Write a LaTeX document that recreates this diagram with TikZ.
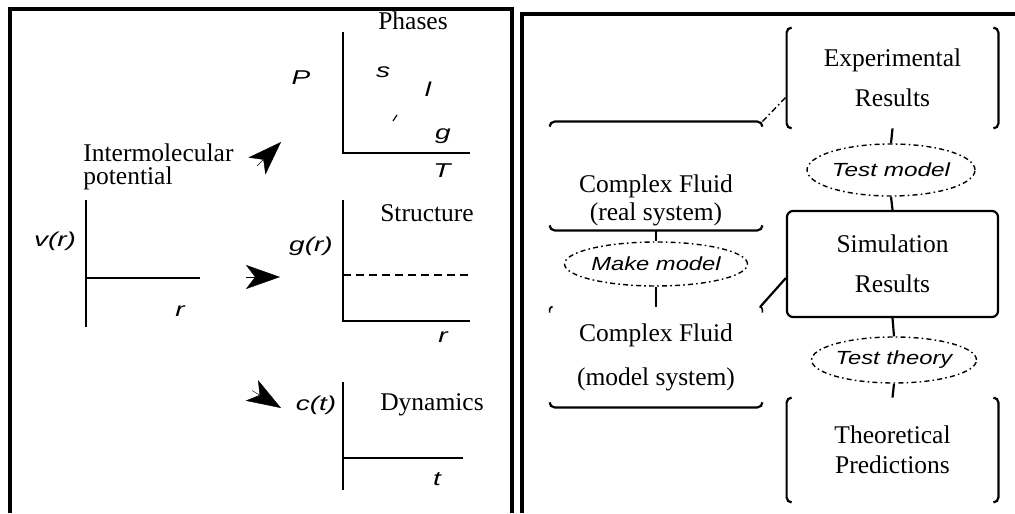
\documentclass[tikz,border=0pt]{standalone}
\usepackage{fontspec}
\usepackage{graphicx}
\setmainfont{Liberation Serif}
\newfontfamily\lsans{Liberation Sans}
\usetikzlibrary{arrows.meta,shapes.geometric}
\newcommand{\xst}[2]{\scalebox{#1}[1]{#2}}
\begin{document}
\begin{tikzpicture}[x=0.5pt,y=-0.5pt,
  frame/.style={line width=2pt, line join=miter},
  axis/.style={line width=1.4pt},
  serif/.style={font=\fontsize{12.75}{19}\selectfont, inner sep=0pt},
  lab/.style={font=\lsans\itshape\fontsize{10}{12}\selectfont, inner sep=0pt},
  dart/.style={line width=0.2pt, -{Stealth[length=17pt, width=12pt, inset=4.5pt]}},
  box/.style={serif, align=center, minimum width=105.5pt, minimum height=50pt},
  boxline/.style={line width=1.1pt},
  ell/.style={ellipse, draw, line width=0.7pt, dash pattern=on 2.5pt off 1.6pt on 0.8pt off 1.6pt,
              inner sep=0pt, font=\lsans\itshape\fontsize{9.5}{11}\selectfont},
  conn/.style={line width=1.1pt},
  thinlink/.style={line width=0.7pt, dash pattern=on 3pt off 1.5pt on 0.8pt off 1.5pt}
]
\useasboundingbox (0,0) rectangle (1015,513);

% ---------- frames ----------
\draw[frame] (10,513) -- (10,9) -- (512,9) -- (512,513);
\draw[frame] (1016,14) -- (522,14) -- (522,513);

% ---------- left panel ----------
% Phases diagram
\draw[axis] (343,32) -- (343,153) -- (470,153);
\node[serif] (phases) at (413,21) {Phases};
\node[lab] (Plab) at (301,78) {\xst{1.4}{P}};
\node[lab] (slab) at (383,72) {\xst{1.4}{s}};
\node[lab] (llab) at (428,89) {\xst{1.4}{l}};
\node[lab] (glab) at (443,136) {\xst{1.4}{g}};
\node[lab] (Tlab) at (442,171) {\xst{1.4}{T}};
\draw[line width=0.6pt] (393,121) -- (397,115);

% intermolecular potential
\node[serif, anchor=north west, align=left, font=\fontsize{12.75}{11.5}\selectfont] (inter) at (83,143) {Intermolecular\\potential};
\node[lab] (vlab) at (55,241) {\xst{1.4}{v(r)}};
\draw[axis] (86,200) -- (86,327);
\draw[axis] (86,278) -- (200,278);
\node[lab] (rlab1) at (180,311) {\xst{1.4}{r}};

% arrowheads
\coordinate (a1s) at (257,166); \coordinate (a1e) at (281,142);
\coordinate (a2s) at (246,277); \coordinate (a2e) at (280,277);
\coordinate (a3s) at (252,390.5); \coordinate (a3e) at (281,408);
\draw[dart] (a1s) -- (a1e);
\draw[dart] (a2s) -- (a2e);
\draw[dart] (a3s) -- (a3e);

% Structure
\node[lab] (grlab) at (311,246) {\xst{1.4}{g(r)}};
\node[serif] (struct) at (427,213) {Structure};
\draw[axis] (343,200) -- (343,321) -- (470,321);
\draw[line width=1.1pt, dash pattern=on 4pt off 2.5pt] (343,275) -- (470,275);
\node[lab] (rlab2) at (443,337) {\xst{1.4}{r}};

% Dynamics
\node[lab] (ctlab) at (316,405) {\xst{1.4}{c(t)}};
\node[serif] (dyn) at (432,405) {Dynamics};
\draw[axis] (343,382) -- (343,490);
\draw[axis] (343,458) -- (463,458);
\node[lab] (tlab) at (437,479) {\xst{1.4}{t}};

% ---------- right panel ----------
\node[box] (exp) at (892.5,78) {Experimental\\[1pt]Results};
\node[box, draw, boxline, rounded corners=3pt, minimum height=53pt] (sim) at (892.5,264) {Simulation\\[1pt]Results};
\node[box, minimum height=52pt] (theo) at (892.5,450) {Theoretical\\[-4pt]Predictions};
\node[box, minimum width=106pt, minimum height=54pt] (real) at (656,176)
  {\raisebox{-14.5pt}[0pt][0pt]{\begin{tabular}{@{}c@{}}Complex Fluid\\[-5pt](real system)\end{tabular}}};
\node[box, minimum width=106pt, minimum height=50pt] (model) at (656,357) {Complex Fluid\\[3pt](model system)};

\node[ell, minimum width=84pt, minimum height=26pt] (tm) at (891,170) {\xst{1.28}{Test model}};
\node[ell, minimum width=81pt, minimum height=22pt] (mm) at (656,264) {\xst{1.25}{Make model}};
\node[ell, minimum width=79pt, minimum height=23pt] (tt) at (894,360) {\xst{1.25}{Test theory}};

% bracket sides of Experimental / Theoretical
\draw[boxline, rounded corners=2.5pt] ([xshift=2.5pt]exp.north west) -- (exp.north west) -- (exp.south west) -- ([xshift=2.5pt]exp.south west);
\draw[boxline, rounded corners=2.5pt] ([xshift=-2.5pt]exp.north east) -- (exp.north east) -- (exp.south east) -- ([xshift=-2.5pt]exp.south east);
\draw[boxline, rounded corners=2.5pt] ([xshift=2.5pt]theo.north west) -- (theo.north west) -- (theo.south west) -- ([xshift=2.5pt]theo.south west);
\draw[boxline, rounded corners=2.5pt] ([xshift=-2.5pt]theo.north east) -- (theo.north east) -- (theo.south east) -- ([xshift=-2.5pt]theo.south east);

% top/bottom sides of Complex Fluid boxes
\draw[boxline, rounded corners=2.5pt] ([yshift=-2.5pt]real.north west) -- (real.north west) -- (real.north east) -- ([yshift=-2.5pt]real.north east);
\draw[boxline, rounded corners=2.5pt] ([yshift=2.5pt]real.south west) -- (real.south west) -- (real.south east) -- ([yshift=2.5pt]real.south east);
\draw[boxline, rounded corners=2.5pt] ([yshift=2.5pt]model.south west) -- (model.south west) -- (model.south east) -- ([yshift=2.5pt]model.south east);
\draw[line width=0.8pt, rounded corners=1.5pt] ([yshift=-3pt]model.north west) -- (model.north west) -- ([xshift=1.5pt]model.north west);
\draw[line width=0.8pt, rounded corners=1.5pt] ([yshift=-3pt]model.north east) -- (model.north east) -- ([xshift=-1.5pt]model.north east);

% connectors
\draw[conn] (exp.south) -- (tm.north);
\draw[conn] (tm.south) -- (sim.north);
\draw[conn] (real.south) -- (mm.north);
\draw[conn] (mm.south) -- (model.north);
\draw[conn] (sim.south) -- (tt.north);
\draw[conn] (tt.south) -- (theo.north);
\draw[thinlink] (real.north east) -- ([yshift=16pt]exp.south west);
\draw[conn] ([yshift=-7pt]sim.west) -- ([xshift=-1pt]model.north east);
\end{tikzpicture}
\end{document}
